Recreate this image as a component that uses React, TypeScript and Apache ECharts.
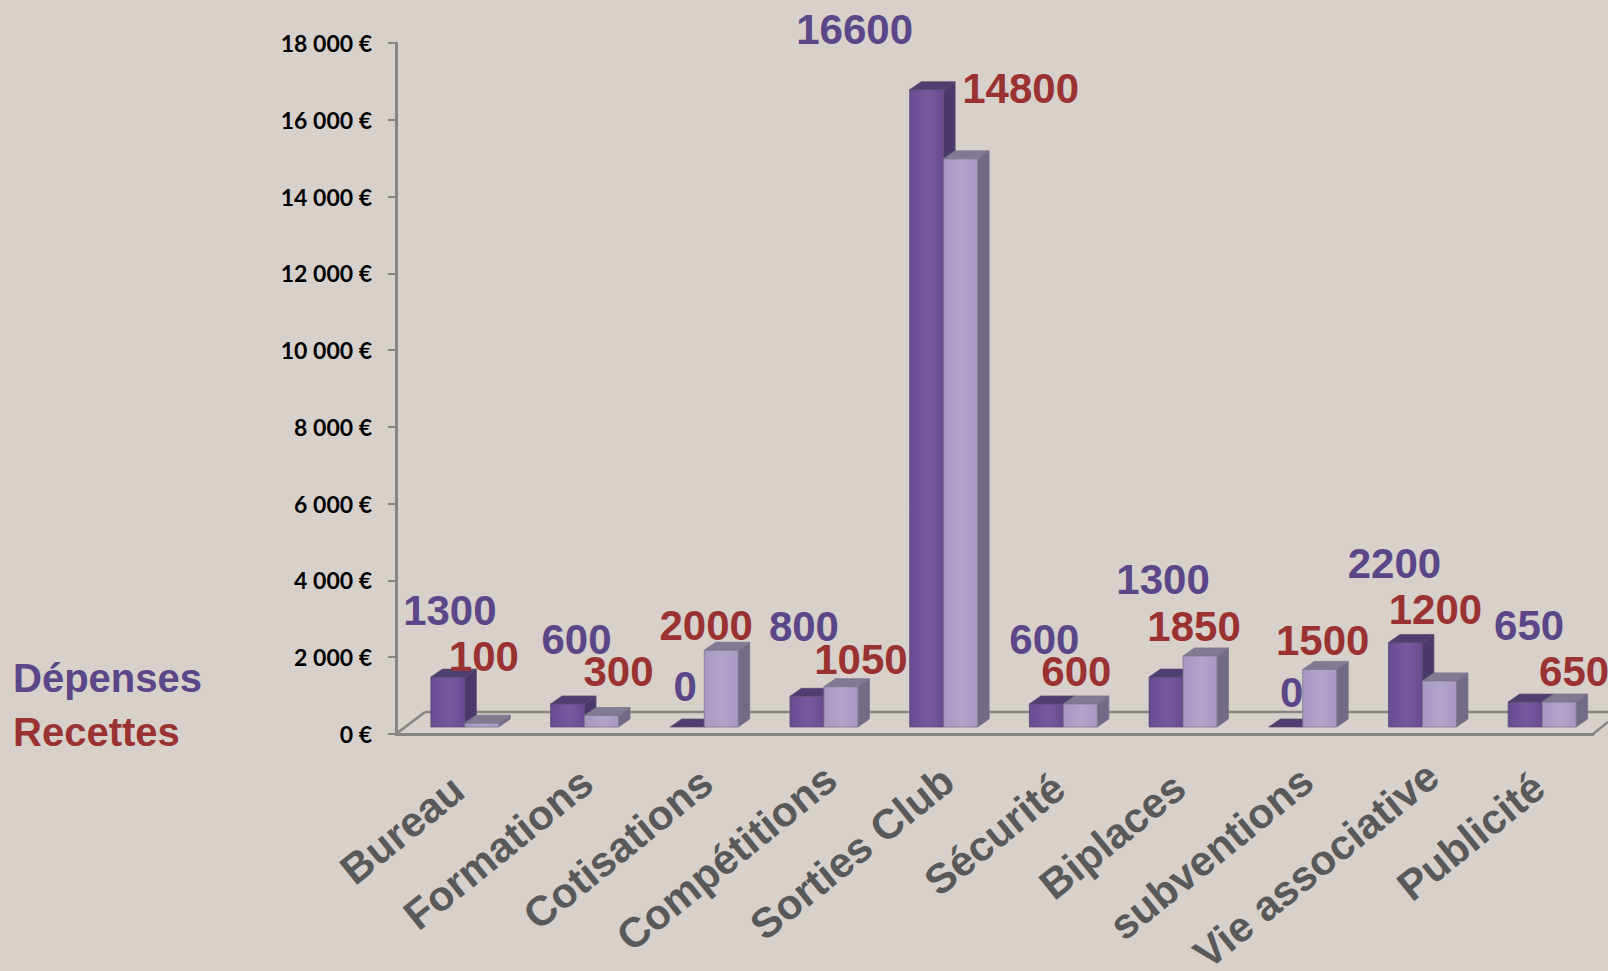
import React, { useEffect, useRef } from "react";
import * as echarts from "echarts";

const categories = ["Bureau", "Formations", "Cotisations", "Compétitions", "Sorties Club", "Sécurité", "Biplaces", "subventions", "Vie associative", "Publicité"];
const depenses = [1300, 600, 0, 800, 16600, 600, 1300, 0, 2200, 650];
const recettes = [100, 300, 2000, 1050, 14800, 600, 1850, 1500, 1200, 650];
const depLabelOffsets = [[2, -67], [9, -64], [-2, -41], [-3, -70], [-72, -60], [-2, -64], [-3, -98], [6, -35], [-11, -79], [4, -77]];
const recLabelOffsets = [[2, -67], [17, -44], [-15, -25], [20, -27], [60, -70], [-4, -32], [-6, -29], [3, -29], [-4, -71], [15, -31]];

const W = 1608, H = 971;
const BLUE = "#5B4788", RED = "#9B3232", AXIS = "#868683";
const CAT_FONT = 'bold 42px "Liberation Sans"';

const shift = 9, baseUp = 7, depthX = 11.5, depthY = 8;

function barSeries(name: string, values: number[], offsets: number[][], side: -1 | 1, c: any) {
  return {
    type: "custom", name,
    data: values.map((v, i) => [i, v]),
    encode: { x: 0, y: 1 },
    clip: false,
    renderItem: (_: any, api: any) => {
      const i = api.value(0), v = api.value(1);
      const [cx, y0] = api.coord([i, 0]);
      const [, yv] = api.coord([i, v]);
      const bw = api.size([1, 0])[0] * 0.284;
      const xl = cx + shift + (side < 0 ? -bw : 0), xr = xl + bw;
      const yb = y0 - baseUp, yt = yv - baseUp;
      const edge = { stroke: c.edge, lineWidth: 1 };
      const [ox, oy] = offsets[i];
      const children: any[] = [
        { type: "polygon", shape: { points: [[xr, yt], [xr + depthX, yt - depthY], [xr + depthX, yb - depthY], [xr, yb]] }, style: { fill: c.side, ...edge } },
        { type: "polygon", shape: { points: [[xl, yt], [xl + depthX, yt - depthY], [xr + depthX, yt - depthY], [xr, yt]] }, style: { fill: c.top, ...edge } },
      ];
      if (v > 0) {
        children.push({
          type: "rect", shape: { x: xl, y: yt, width: bw, height: yb - yt },
          style: {
            fill: new echarts.graphic.LinearGradient(0, 0, 1, 0, [
              { offset: 0, color: c.front0 }, { offset: 0.55, color: c.front1 }, { offset: 1, color: c.front0 },
            ]), ...edge,
          },
        });
      }
      children.push({
        type: "text",
        style: {
          x: (xl + xr) / 2 + ox, y: yt + oy, text: String(v), fill: c.label,
          font: 'bold 42px "Liberation Sans"', align: "center", verticalAlign: "middle",
        },
      });
      return { type: "group", children };
    },
  };
}

export default function App() {
  const ref = useRef<HTMLDivElement>(null);
  useEffect(() => {
    document.body.style.margin = "0";
    document.body.style.overflow = "hidden";
    const chart = echarts.init(ref.current!, undefined, { renderer: "svg" });
    const floorLine = { stroke: AXIS, lineWidth: 2.5 };
    const widthOf = (s: string) => (echarts as any).format.getTextRect(s, CAT_FONT).width;
    const refWidth = widthOf(categories[0]);
    const catData = categories.map((value) => {
      const L = widthOf(value);
      const overshoot = 3 + 0.14 * (L - refWidth);
      return { value, textStyle: { align: "center", padding: [0, Math.max(0, L - 2 * overshoot), 0, 0] } };
    });
    chart.setOption({
      animation: false,
      backgroundColor: "#D7D0CB",
      grid: { left: 396, right: W - 1593, top: 43, bottom: H - 734, outerBoundsMode: "none" },
      xAxis: {
        type: "category", data: catData,
        axisLine: { lineStyle: { color: AXIS, width: 3 } },
        axisTick: { show: false },
        axisLabel: { interval: 0, rotate: 39, margin: 52, color: "#595959", fontFamily: "Liberation Sans", fontWeight: "bold", fontSize: 42 },
      },
      yAxis: {
        type: "value", min: 0, max: 18000, interval: 2000,
        splitLine: { show: false },
        axisLine: { show: true, lineStyle: { color: AXIS, width: 3 } },
        axisTick: { show: true, length: 8, lineStyle: { color: AXIS, width: 2 } },
        axisLabel: {
          margin: 24, color: "#000", fontFamily: "Lato", fontWeight: "bold", fontSize: 23,
          formatter: (v: number) => `${String(v).replace(/\B(?=(\d{3})+$)/g, " ")} €`,
        },
      },
      graphic: [
        { type: "line", silent: true, z: 0, shape: { x1: 425, y1: 712, x2: W, y2: 712 }, style: floorLine },
        { type: "line", silent: true, z: 0, shape: { x1: 396, y1: 734, x2: 425, y2: 712 }, style: floorLine },
        { type: "line", silent: true, z: 0, shape: { x1: 1593, y1: 734, x2: W, y2: 722 }, style: floorLine },
        { type: "text", left: 13, top: 658, style: { text: "Dépenses", fill: BLUE, font: 'bold 40px "Liberation Sans"' } },
        { type: "text", left: 13, top: 712, style: { text: "Recettes", fill: RED, font: 'bold 40px "Liberation Sans"' } },
      ],
      series: [
        barSeries("Dépenses", depenses, depLabelOffsets, -1, { front0: "#674A90", front1: "#775A9E", side: "#4A3A6C", top: "#4F3F70", edge: "rgba(85,75,105,0.7)", label: BLUE }),
        barSeries("Recettes", recettes, recLabelOffsets, 1, { front0: "#A798C2", front1: "#B2A4CB", side: "#716B85", top: "#807A92", edge: "rgba(125,118,140,0.8)", label: RED }),
      ],
    });
    return () => chart.dispose();
  }, []);
  return <div ref={ref} style={{ width: W, height: H }} />;
}
